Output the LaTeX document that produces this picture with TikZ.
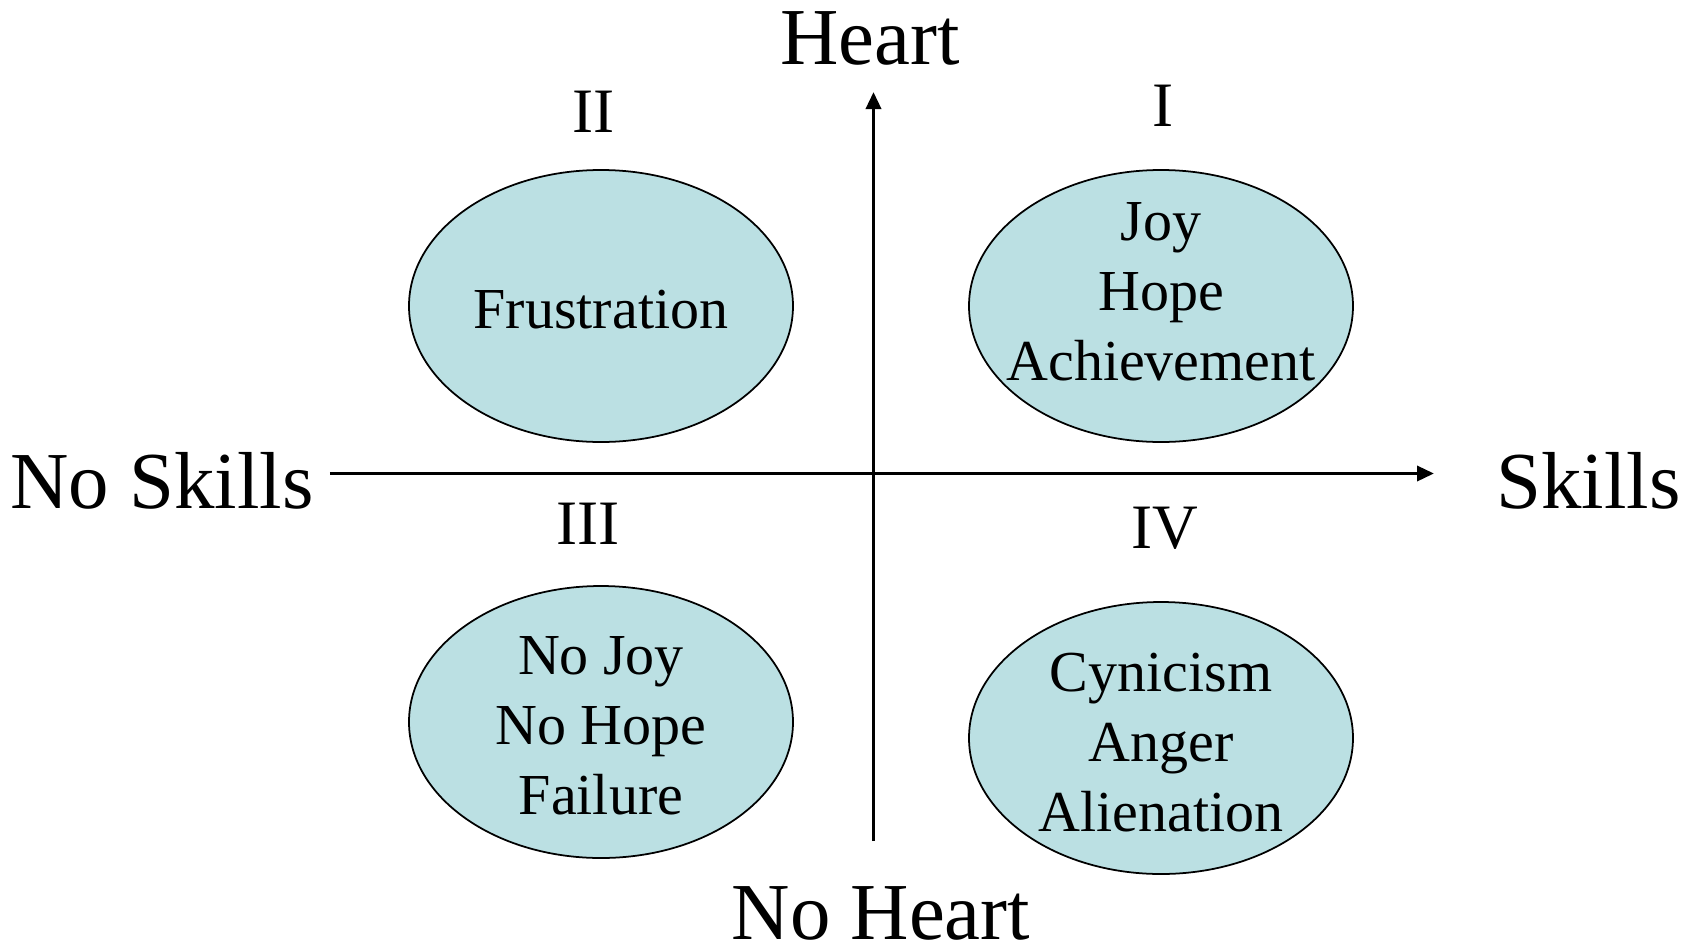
\documentclass[tikz,border=0pt]{standalone}
\usepackage{fontspec}
\setmainfont{Liberation Serif}
\usetikzlibrary{arrows.meta,positioning,calc,shapes.geometric}
\definecolor{moodf}{HTML}{BBE0E3}

\begin{document}
\begin{tikzpicture}[
  axislbl/.style={font=\fontsize{23}{27}\selectfont,anchor=base,inner sep=0pt},
  quad/.style={font=\fontsize{18}{21}\selectfont,anchor=base,inner sep=0pt},
  mood/.style={ellipse,draw,fill=moodf,line width=0.5pt,minimum width=3.84cm,minimum height=2.72cm,inner sep=0pt},
  moodtxt/.style={align=center,inner sep=0pt,font=\fontsize{16.5}{19.9}\selectfont},
  axis/.style={-{Triangle[length=1.7mm,width=1.5mm]},line width=1pt}]
\useasboundingbox (-8.735,-4.725) rectangle (8.215,4.735);
% axes
\coordinate (S) at (0,-3.675);
\coordinate (N) at (0,3.815);
\coordinate (W) at (-5.435,0);
\coordinate (E) at (5.605,0);
\draw[axis] (S) -- (N);
\draw[axis] (W) -- (E);
\node[axislbl] (heart) at (-0.035,4.085) {Heart};
\node[axislbl] (noheart) at (0.075,-4.655) {No Heart};
\node[axislbl] (noskills) at (-7.115,-0.345) {No Skills};
\node[axislbl] (skills) at (7.15,-0.345) {Skills};
% quadrants
\foreach \n/\x/\y in {E1/2.875/1.675,E2/-2.725/1.675,E3/-2.725/-2.485,E4/2.875/-2.645}
  \node[mood] (\n) at (\x,\y) {};
\node[quad] (q1) at (2.895,3.475) {I};
\node[quad] (q2) at (-2.795,3.415) {II};
\node[quad] (q3) at (-2.855,-0.705) {III};
\node[quad] (q4) at (2.915,-0.745) {IV};
\node[moodtxt] (t1) at ($(E1.center)+(0,0.14)$) {Joy\\Hope\\Achievement};
\node[moodtxt] (t2) at ($(E2.center)+(0,-0.04)$) {Frustration};
\node[moodtxt] (t3) at ($(E3.center)+(0,-0.04)$) {No Joy\\No Hope\\Failure};
\node[moodtxt] (t4) at ($(E4.center)+(0,-0.05)$) {Cynicism\\Anger\\Alienation};
\end{tikzpicture}
\end{document}
